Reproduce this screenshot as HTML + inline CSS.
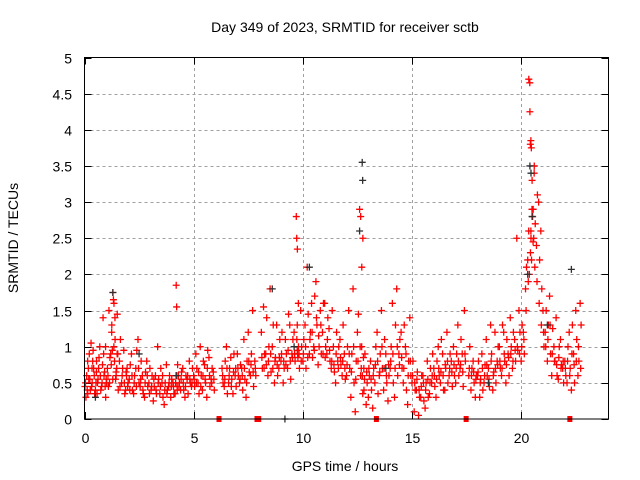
<!DOCTYPE html>
<html><head><meta charset="utf-8"><style>
html,body{margin:0;padding:0;background:#fff;}
svg{display:block;font-family:"Liberation Sans",sans-serif;}
</style></head><body>
<svg id="chart" width="640" height="480" viewBox="0 0 640 480" xmlns="http://www.w3.org/2000/svg">
<text x="345" y="32" font-size="14" text-anchor="middle">Day 349 of 2023, SRMTID for receiver sctb</text>
<text x="0" y="0" font-size="14" text-anchor="middle" transform="translate(18,238) rotate(-90)">SRMTID / TECUs</text>
<text x="345" y="471" font-size="14" text-anchor="middle">GPS time / hours</text>
<g id="grid"></g>
<g id="ticks"></g>
<g id="red"></g>
<g id="dark"></g>
<g id="gaps"></g>
<rect x="84.5" y="57.5" width="524" height="361.5" fill="none" stroke="#000" stroke-width="1"/>
</svg>
<script>
const xTicks=[0,5,10,15,20];
const yTicks=[0,0.5,1,1.5,2,2.5,3,3.5,4,4.5,5];
const yTickLabels=["0","0.5","1","1.5","2","2.5","3","3.5","4","4.5","5"];
const times=[0.02,0.1,0.15,0.22,0.3,0.35,0.42,0.5,0.55,0.62,0.7,0.78,0.85,0.92,0.97,
1.05,1.12,1.2,1.25,1.3,1.35,1.4,1.45,1.5,1.6,1.7,1.8,1.88,1.95,
2.05,2.15,2.25,2.35,2.45,2.55,2.65,2.75,2.85,2.95,
3.05,3.15,3.25,3.35,3.45,3.55,3.65,3.75,3.85,3.95,
4.05,4.15,4.2,4.22,4.3,4.4,4.5,4.6,4.7,4.8,4.9,
5.0,5.1,5.2,5.3,5.4,5.5,5.6,5.7,5.8,5.9,
6.3,6.4,6.5,6.6,6.7,6.8,6.9,
7.0,7.1,7.2,7.3,7.4,7.5,7.6,7.7,7.8,
8.1,8.2,8.3,8.4,8.5,8.6,8.7,8.8,8.9,
9.0,9.1,9.2,9.3,9.4,9.5,9.6,9.7,9.72,9.75,9.8,9.9,
10.0,10.1,10.2,10.3,10.4,10.5,10.6,10.7,10.8,10.9,
11.0,11.1,11.2,11.3,11.4,11.5,11.6,11.7,11.8,11.9,
12.0,12.1,12.2,12.3,12.4,12.5,12.6,12.65,12.7,12.75,12.8,12.9,
13.0,13.1,13.2,13.3,13.4,13.5,13.6,13.7,13.8,13.9,
14.0,14.1,14.2,14.3,14.4,14.5,14.6,14.7,14.8,14.9,
15.0,15.1,15.2,15.3,15.4,15.5,15.6,15.7,15.8,15.9,
16.0,16.1,16.2,16.3,16.4,16.5,16.6,16.7,16.8,16.9,
17.0,17.1,17.2,17.3,17.4,17.6,17.7,17.8,17.9,
18.0,18.1,18.2,18.3,18.4,18.5,18.6,18.7,18.8,18.9,
19.0,19.1,19.2,19.3,19.4,19.5,19.6,19.7,19.8,19.9,
20.0,20.1,20.2,20.3,20.35,20.4,20.42,20.45,20.5,20.55,20.6,20.7,20.8,20.9,
21.0,21.1,21.2,21.3,21.4,21.5,21.6,21.7,21.8,21.9,
22.0,22.1,22.2,22.3,22.4,22.5,22.6,22.7];
const valuesA=[0.45,0.6,0.35,0.9,1.05,0.5,0.7,0.4,0.8,0.55,1.0,0.45,1.4,0.65,0.3,
0.7,1.5,0.9,1.3,1.75,1.6,1.1,0.6,1.45,0.8,0.5,0.95,0.4,0.7,
0.55,0.9,0.35,0.7,1.1,0.45,0.6,0.3,0.8,0.5,
0.4,0.25,0.6,1.0,0.35,0.5,0.2,0.75,0.45,0.3,
0.5,0.35,1.85,1.55,0.6,0.4,0.7,0.3,0.55,0.8,0.45,
0.6,0.9,0.5,1.0,0.4,0.75,0.3,0.85,0.55,0.65,
0.7,0.45,1.0,0.5,0.85,0.35,0.6,
0.9,0.5,0.7,1.1,0.3,1.2,0.6,1.5,0.8,
1.2,1.55,0.9,0.6,1.8,1.0,0.5,1.3,0.7,
0.8,0.5,1.1,0.7,1.3,0.9,1.2,2.8,2.5,2.35,1.0,1.5,
0.8,1.3,2.1,0.9,1.6,1.0,1.9,0.75,1.5,1.2,
1.6,0.9,1.25,0.7,1.0,0.5,0.8,1.1,0.6,0.9,
0.6,1.5,0.3,1.8,0.1,1.2,2.9,2.8,2.1,2.5,0.4,0.2,
0.3,0.8,0.15,0.5,1.2,0.6,1.5,0.4,0.9,0.25,
0.7,1.6,0.3,1.8,0.9,1.2,0.5,1.0,0.2,1.4,
0.5,0.1,0.4,0.05,0.3,0.6,0.15,0.8,0.35,0.5,
0.7,0.3,1.0,0.5,0.9,0.4,1.2,0.6,0.8,1.0,
0.5,1.3,0.7,0.9,1.5,0.6,0.4,0.8,0.3,
0.6,0.3,0.9,0.5,1.1,0.7,1.3,0.4,1.2,0.8,
1.0,0.6,1.2,0.5,0.9,1.4,0.7,1.1,2.5,1.5,
0.8,1.2,1.8,2.2,4.7,4.25,3.8,2.5,3.3,2.9,3.5,2.4,3.0,2.6,
1.5,1.2,0.8,1.7,0.6,1.0,1.4,0.55,1.1,0.7,
0.8,0.5,1.2,0.4,0.9,1.5,0.6,1.6];
const valuesB=[0.3,0.8,0.55,0.4,0.7,0.95,0.35,0.65,0.5,0.85,0.4,0.75,0.6,1.0,0.5,
0.45,0.85,1.2,0.55,1.0,1.4,0.65,0.9,0.4,1.1,0.7,0.35,0.6,0.5,
0.75,0.4,0.6,0.95,0.5,0.8,0.35,0.65,0.45,0.7,
0.6,0.45,0.35,0.55,0.7,0.3,0.5,0.4,0.6,0.55,
0.35,0.6,0.45,0.75,0.5,0.65,0.4,0.6,0.35,0.5,0.7,
0.45,0.7,0.35,0.6,0.8,0.5,0.95,0.45,0.7,0.4,
0.5,0.8,0.35,0.7,0.55,0.9,0.45,
0.6,0.75,0.4,0.55,0.8,0.65,0.9,0.45,0.6,
0.7,0.9,1.4,1.0,0.65,1.3,0.85,0.6,1.1,
1.2,0.7,0.9,1.45,0.55,1.1,0.8,1.3,0.9,1.6,0.7,1.0,
1.1,0.7,1.45,1.2,0.85,1.7,1.3,1.0,0.9,1.6,
1.0,1.4,0.8,1.5,0.65,1.2,1.0,0.75,1.3,0.55,
1.0,0.7,0.9,0.5,0.8,1.45,0.6,1.0,0.35,0.7,0.9,0.5,
0.6,0.4,0.7,1.0,0.35,0.9,0.7,1.1,0.5,0.6,
1.0,0.5,1.3,0.6,1.1,0.7,1.3,0.4,0.8,0.6,
0.8,0.4,0.65,0.3,0.6,0.25,0.5,0.3,0.7,0.9,
0.45,0.8,0.6,1.1,0.4,0.7,0.5,0.9,0.45,0.6,
0.9,0.6,1.1,0.45,0.8,1.0,0.7,0.5,0.6,
0.8,0.55,0.4,0.75,0.6,0.45,0.9,0.65,0.5,1.0,
0.7,1.3,0.8,1.1,0.6,1.0,1.2,0.8,0.95,1.2,
1.3,0.9,2.1,2.6,4.65,3.85,3.75,2.9,2.45,3.4,2.7,3.1,2.2,1.8,
1.0,1.5,1.3,0.9,1.25,0.8,0.6,1.0,0.75,0.5,
0.6,1.0,0.7,1.3,0.5,1.1,0.8,1.3];
const valuesC=[0.5,0.4,0.7,0.55,0.45,0.8,0.6,0.5,0.35,0.7,0.6,0.5,0.9,0.45,0.55,
0.6,0.5,0.75,0.95,1.65,0.8,0.55,0.7,0.9,0.45,0.6,0.5,0.65,0.45,
0.4,0.6,0.5,0.45,0.7,0.55,0.4,0.5,0.6,0.35,
0.45,0.55,0.4,0.5,0.45,0.6,0.4,0.35,0.5,0.45,
0.45,0.5,0.6,0.4,0.45,0.55,0.5,0.45,0.6,0.55,0.5,
0.55,0.5,0.65,0.45,0.6,0.55,0.7,0.6,0.5,0.55,
0.6,0.55,0.7,0.6,0.45,0.65,0.7,
0.7,0.55,0.6,0.7,0.5,0.8,0.75,0.65,0.7,
0.85,0.7,0.75,0.8,0.9,0.7,0.8,0.75,0.85,
0.9,0.8,0.75,0.95,0.8,0.85,0.9,1.1,0.95,0.85,0.9,0.8,
0.9,1.0,0.85,1.1,1.2,0.95,1.4,1.15,1.3,0.9,
0.85,1.1,0.95,0.8,0.75,0.9,0.7,0.85,0.8,0.7,
0.75,0.9,0.65,1.0,0.55,0.8,1.0,0.7,0.6,0.85,0.55,0.65,
0.7,0.55,0.6,0.75,0.8,0.65,1.0,0.7,0.6,0.75,
0.8,0.9,0.7,1.0,0.75,0.85,0.7,0.9,0.6,0.8,
0.6,0.5,0.55,0.4,0.45,0.5,0.4,0.55,0.5,0.6,
0.6,0.55,0.7,0.65,0.6,0.75,0.8,0.7,0.65,0.75,
0.7,0.8,0.75,0.65,0.9,0.7,0.6,0.65,0.55,
0.65,0.5,0.7,0.6,0.75,0.55,0.8,0.6,0.7,0.75,
0.8,0.7,0.9,0.75,0.85,0.9,0.8,0.95,1.0,0.9,
1.0,1.1,1.5,1.9,2.0,2.3,2.6,2.2,2.8,2.5,2.1,1.9,1.6,1.3,
1.2,1.0,1.1,1.3,0.9,0.8,0.75,0.85,0.7,0.8,
0.7,0.8,0.6,0.9,0.75,0.8,1.0,0.7];
const darkTimes=[0.5,1.3,2.5,4.2,8.6,9.6,10.3,12.6,12.72,12.74,13.8,18.5,20.3,20.4,20.45,20.5,21.2,22.3];
const darkValues=[0.3,1.75,0.9,0.6,1.8,1.0,2.1,2.6,3.55,3.3,0.7,0.5,2.0,3.5,3.4,2.8,1.3,2.07];
const redGapTimes=[6.16,7.9,7.98,13.37,17.48,22.23];
const darkGapTimes=[9.18];

const NS="http://www.w3.org/2000/svg";
const X0=84.5,X1=608.5,Y0=419,Y1=57.5;
const xs=h=>X0+(h/24)*(X1-X0);
const ys=v=>Y0-(v/5)*(Y0-Y1);
function mk(tag,attrs,parent){const e=document.createElementNS(NS,tag);for(const k in attrs)e.setAttribute(k,attrs[k]);parent.appendChild(e);return e;}
const grid=document.getElementById('grid'),ticks=document.getElementById('ticks');
yTicks.forEach((v,i)=>{
  const y=Math.round(ys(v))+0.5;
  if(v>0&&v<5){const g=mk('line',{x1:X0,x2:X1,y1:y,y2:y,stroke:'#a0a0a0','stroke-dasharray':'3,3'},grid);
    
    }
  const t=mk('path',{d:`M${X0} ${y}h7M${X1} ${y}h-7`,stroke:'#000'},ticks);
  
  
  const l=mk('text',{x:72,y:y+5,'font-size':14,'text-anchor':'end'},ticks);l.textContent=yTickLabels[i];
  
  
});
xTicks.forEach(h=>{
  const x=Math.round(xs(h))+0.5;
  if(h>0){const g=mk('line',{x1:x,x2:x,y1:Y0,y2:Y1,stroke:'#a0a0a0','stroke-dasharray':'3,3'},grid);
    
    }
  const t=mk('path',{d:`M${x} ${Y0}v-7M${x} ${Y1}v7`,stroke:'#000'},ticks);
  
  
  const l=mk('text',{x:x,y:443,'font-size':14,'text-anchor':'middle'},ticks);l.textContent=String(h);
  
  
});
function plus(g,h,v,color){
  const x=xs(h),y=ys(v);
  const p=mk('path',{d:`M${x-3.5} ${y}h7M${x} ${y-3.5}v7`,stroke:color,'stroke-width':1.3,fill:'none'},g);
  
  
}
const red=document.getElementById('red'),dark=document.getElementById('dark'),gaps=document.getElementById('gaps');
darkTimes.forEach((h,i)=>plus(dark,h,darkValues[i],'#303030'));
times.forEach((h,i)=>{
  plus(red,h,valuesA[i],'#ff0000');
  plus(red,h+0.045,valuesB[i],'#ff0000');
  plus(red,h+0.025,valuesC[i],'#ff0000');
});
redGapTimes.forEach(h=>{
  const r=mk('rect',{x:xs(h)-2.5,y:Y0-3,width:5,height:6,fill:'#ff0000'},gaps);
  
  
});
darkGapTimes.forEach(h=>plus(gaps,h,0,'#303030'));
</script>
</body></html>
